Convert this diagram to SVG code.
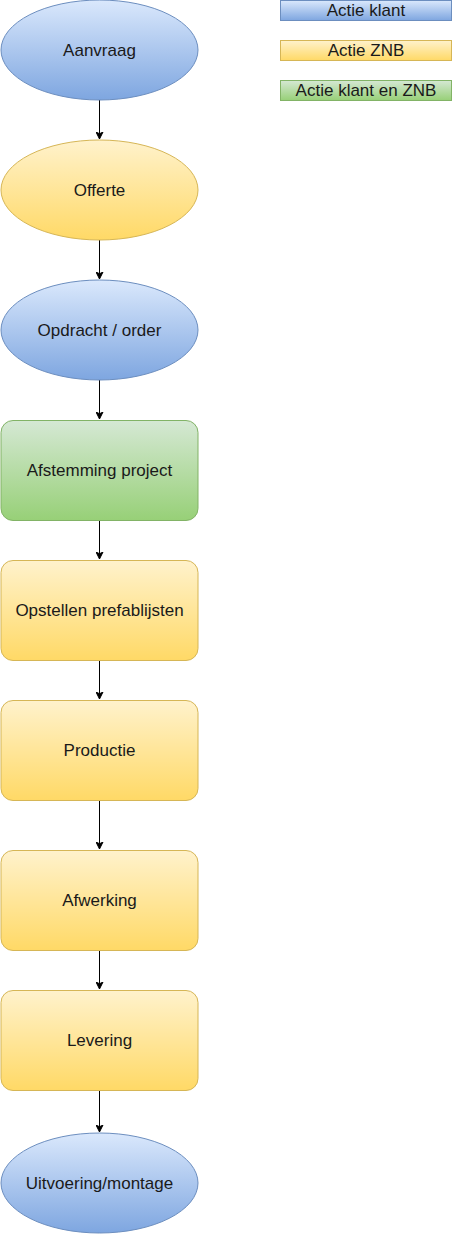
<svg xmlns="http://www.w3.org/2000/svg" width="452" height="1234" viewBox="0 0 452 1234">
<style>
.b{fill:url(#gb);stroke:#6c8ebf;stroke-width:1}
.y{fill:url(#gy);stroke:#d6b656;stroke-width:1}
.g{fill:url(#gg);stroke:#82b366;stroke-width:1}
text{font-family:"Liberation Sans",Arial,Helvetica,sans-serif;font-size:17px;fill:#1a1a1a;text-anchor:middle;dominant-baseline:central}
.c{stroke:#000;stroke-width:1;fill:none;marker-end:url(#arr)}
</style>
<defs>
<linearGradient id="gb" x1="0" y1="0" x2="0" y2="1"><stop offset="0" stop-color="#dae8fc"/><stop offset="1" stop-color="#7ea6e0"/></linearGradient>
<linearGradient id="gy" x1="0" y1="0" x2="0" y2="1"><stop offset="0" stop-color="#fff2cc"/><stop offset="1" stop-color="#ffd966"/></linearGradient>
<linearGradient id="gg" x1="0" y1="0" x2="0" y2="1"><stop offset="0" stop-color="#d5e8d4"/><stop offset="1" stop-color="#97d077"/></linearGradient>
<marker id="arr" markerWidth="8" markerHeight="8" refX="7" refY="4" orient="auto" markerUnits="userSpaceOnUse"><path d="M0,0.5 L7,4 L0,7.5 L1.75,4 Z" fill="#000" stroke="#000" stroke-width="1"/></marker>
</defs>
<g id="connectors">
<line class="c" x1="99.5" y1="100" x2="99.5" y2="139"/>
<line class="c" x1="99.5" y1="240" x2="99.5" y2="279"/>
<line class="c" x1="99.5" y1="380" x2="99.5" y2="419"/>
<line class="c" x1="99.5" y1="520" x2="99.5" y2="559"/>
<line class="c" x1="99.5" y1="660" x2="99.5" y2="699"/>
<line class="c" x1="99.5" y1="800" x2="99.5" y2="849"/>
<line class="c" x1="99.5" y1="950" x2="99.5" y2="989"/>
<line class="c" x1="99.5" y1="1090" x2="99.5" y2="1132"/>
</g>
<g id="n1"><ellipse class="b" cx="99.5" cy="50" rx="98.5" ry="50"/><text x="99.5" y="50">Aanvraag</text></g>
<g id="n2"><ellipse class="y" cx="99.5" cy="190" rx="98.5" ry="50"/><text x="99.5" y="190">Offerte</text></g>
<g id="n3"><ellipse class="b" cx="99.5" cy="330" rx="98.5" ry="50"/><text x="99.5" y="330">Opdracht / order</text></g>
<g id="n4"><rect class="g" x="1" y="420.5" width="197" height="100" rx="12"/><text x="99.5" y="470">Afstemming project</text></g>
<g id="n5"><rect class="y" x="1" y="560.5" width="197" height="100" rx="12"/><text x="99.5" y="610">Opstellen prefablijsten</text></g>
<g id="n6"><rect class="y" x="1" y="700.5" width="197" height="100" rx="12"/><text x="99.5" y="750">Productie</text></g>
<g id="n7"><rect class="y" x="1" y="850.5" width="197" height="100" rx="12"/><text x="99.5" y="900">Afwerking</text></g>
<g id="n8"><rect class="y" x="1" y="990.5" width="197" height="100" rx="12"/><text x="99.5" y="1040">Levering</text></g>
<g id="n9"><ellipse class="b" cx="99.5" cy="1183" rx="98.5" ry="50"/><text x="99.5" y="1183">Uitvoering/montage</text></g>
<g id="legend1"><rect class="b" x="280.5" y="0.5" width="171" height="20"/><text x="366" y="10">Actie klant</text></g>
<g id="legend2"><rect class="y" x="280.5" y="40.5" width="171" height="20"/><text x="366" y="50">Actie ZNB</text></g>
<g id="legend3"><rect class="g" x="280.5" y="80.5" width="171" height="20"/><text x="366" y="90">Actie klant en ZNB</text></g>
</svg>
